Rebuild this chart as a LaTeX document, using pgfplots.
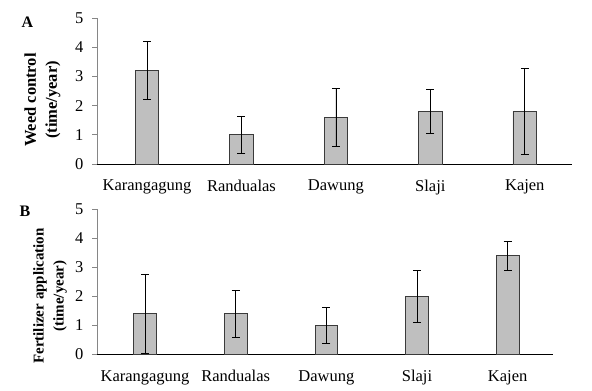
\documentclass[border=0pt]{standalone}
\usepackage{fontspec}
\setmainfont{Liberation Serif}
\usepackage{pgfplots}
\pgfplotsset{compat=1.18}

\definecolor{barfill}{HTML}{BFBFBF}
\definecolor{baredge}{HTML}{3A3A3A}
\definecolor{yaxis}{HTML}{868686}

\pgfplotsset{
  panel/.style={
    scale only axis,
    ybar, bar width=0.25,
    xmin=-0.53, xmax=4.5,
    ymin=0, ymax=5,
    ytick={0,...,5},
    xtick={0,...,4},
    xticklabels={Karangagung,Randualas,Dawung,Slaji,Kajen},
    axis lines*=left,
    x axis line style={black, line width=0.8pt},
    y axis line style={yaxis, line width=0.8pt},
    tick align=outside,
    major tick length=5pt,
    ytick style={yaxis, line width=0.8pt},
    xtick style={draw=none},
    tick label style={font=\fontsize{16.5}{18}\selectfont},
    yticklabel style={xshift=-5pt},
    xticklabel style={yshift=-7.5pt},
    /pgf/number format/assume math mode=true,
  },
  bars/.style={
    fill=barfill, draw=baredge, line width=0.8pt,
    error bars/.cd,
      y dir=both, y explicit,
      error bar style={black, line width=0.7pt},
      error mark options={rotate=90, black, mark size=4pt, line width=0.7pt},
  },
}

\begin{document}
\begin{tikzpicture}
\path[use as bounding box] (0,0) rectangle (592pt,-391pt);

%% Panel A: weed control
\begin{axis}[panel, width=475pt, height=146pt,
  at={(97pt,-164pt)}, anchor=south west]
\addplot[bars] coordinates {
  (0, 3.20) +- (0, 1.00)   % Karangagung
  (1, 1.00) +- (0, 0.63)   % Randualas
  (2, 1.60) +- (0, 1.00)   % Dawung
  (3, 1.80) +- (0, 0.76)   % Slaji
  (4, 1.80) +- (0, 1.47)   % Kajen
};
\end{axis}

%% Panel B: fertilizer application
\begin{axis}[panel, width=456pt, height=145pt,
  at={(97pt,-354.3pt)}, anchor=south west]
\addplot[bars] coordinates {
  (0, 1.40) +- (0, 1.37)   % Karangagung
  (1, 1.40) +- (0, 0.80)   % Randualas
  (2, 1.00) +- (0, 0.63)   % Dawung
  (3, 2.00) +- (0, 0.90)   % Slaji
  (4, 3.40) +- (0, 0.50)   % Kajen
};
\end{axis}

%% panel letters and y labels
\node[font=\bfseries\fontsize{16}{18}\selectfont] at (27.5pt,-22.5pt) {A};
\node[font=\bfseries\fontsize{16}{18}\selectfont] at (25pt,-211.7pt) {B};
\node[rotate=90, align=center, font=\bfseries\fontsize{16.5}{21}\selectfont]
  at (42.5pt,-100pt) {Weed control\\(time/year)};
\node[rotate=90, align=center, font=\bfseries\fontsize{15}{20}\selectfont]
  at (50pt,-296pt) {Fertilizer application\\(time/year)};
\end{tikzpicture}
\end{document}
